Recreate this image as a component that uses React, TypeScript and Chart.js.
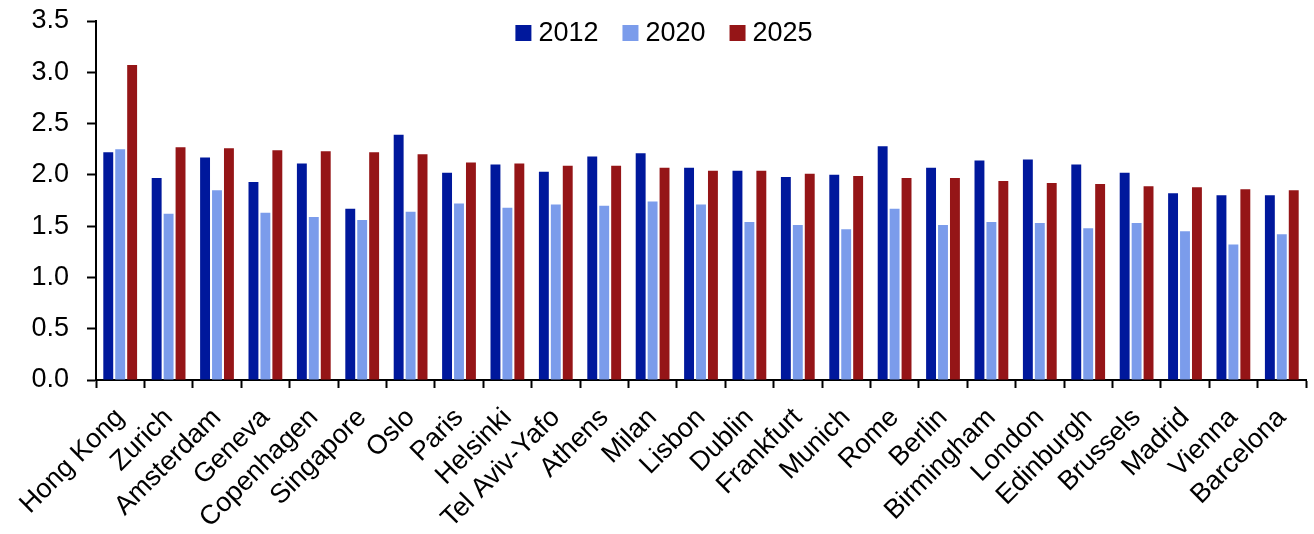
import React, { useEffect, useRef } from "react";
import { Chart, registerables } from "chart.js";

Chart.register(...registerables);

const cities = [
  "Hong Kong", "Zurich", "Amsterdam", "Geneva", "Copenhagen", "Singapore", "Oslo",
  "Paris", "Helsinki", "Tel Aviv-Yafo", "Athens", "Milan", "Lisbon", "Dublin",
  "Frankfurt", "Munich", "Rome", "Berlin", "Birmingham", "London", "Edinburgh",
  "Brussels", "Madrid", "Vienna", "Barcelona",
];

const values2012 = [
  2.22, 1.97, 2.17, 1.93, 2.11, 1.67, 2.39, 2.02, 2.10, 2.03, 2.18, 2.21, 2.07,
  2.04, 1.98, 2.00, 2.28, 2.07, 2.14, 2.15, 2.10, 2.02, 1.82, 1.80, 1.80,
];

const values2020 = [
  2.25, 1.62, 1.85, 1.63, 1.59, 1.56, 1.64, 1.72, 1.68, 1.71, 1.70, 1.74, 1.71,
  1.54, 1.51, 1.47, 1.67, 1.51, 1.54, 1.53, 1.48, 1.53, 1.45, 1.32, 1.42,
];

const values2025 = [
  3.07, 2.27, 2.26, 2.24, 2.23, 2.22, 2.20, 2.12, 2.11, 2.09, 2.09, 2.07, 2.04,
  2.04, 2.01, 1.99, 1.97, 1.97, 1.94, 1.92, 1.91, 1.89, 1.88, 1.86, 1.85,
];

const seriesLabels = ["2012", "2020", "2025"];
const seriesColors = ["#00189C", "#7B9CEB", "#951517"];

const FONT = '"Liberation Sans", Arial, sans-serif';

const legendPlugin = {
  id: "insideLegend",
  afterDraw(chart: any) {
    const ctx = chart.ctx;
    ctx.save();
    ctx.font = `27px ${FONT}`;
    ctx.textBaseline = "middle";
    const box = 16;
    const gapText = 7;
    const gapItem = 24;
    const items = chart.data.datasets.map((d: any) => ({
      label: d.label,
      color: d.backgroundColor,
      w: box + gapText + ctx.measureText(d.label).width,
    }));
    const total = items.reduce((s: number, i: any) => s + i.w, 0) + gapItem * (items.length - 1);
    let x = 664 - total / 2;
    const cy = 33;
    items.forEach((it: any) => {
      ctx.fillStyle = it.color;
      ctx.fillRect(x, cy - box / 2, box, box);
      ctx.fillStyle = "#000";
      ctx.fillText(it.label, x + box + gapText, cy + 1);
      x += it.w + gapItem;
    });
    ctx.restore();
  },
};

export default function App() {
  const canvasRef = useRef<HTMLCanvasElement | null>(null);

  useEffect(() => {
    if (!canvasRef.current) return;
    const datasets = [values2012, values2020, values2025].map((vals, i) => ({
      label: seriesLabels[i],
      data: vals,
      backgroundColor: seriesColors[i],
      borderWidth: 0,
      barPercentage: 0.83,
      categoryPercentage: 0.74,
    }));
    const chart = new Chart(canvasRef.current, {
      type: "bar",
      data: { labels: cities, datasets },
      options: {
        animation: false,
        responsive: true,
        maintainAspectRatio: false,
        layout: { padding: { top: 21, right: 8, left: 0, bottom: 0 } },
        plugins: {
          legend: { display: false },
          tooltip: { enabled: false },
        },
        scales: {
          x: {
            grid: {
              display: true,
              drawOnChartArea: false,
              drawTicks: true,
              tickLength: 8,
              tickWidth: 2,
              tickColor: "#000",
              offset: true,
            },
            border: { display: true, color: "#000", width: 2 },
            ticks: {
              autoSkip: false,
              maxRotation: 45,
              minRotation: 45,
              color: "#000",
              font: { size: 27, family: FONT },
              padding: 14,
            },
            afterFit: (scale: any) => {
              scale.height = 154;
              scale.paddingLeft = 0;
              scale.paddingRight = 0;
            },
          },
          y: {
            min: 0,
            max: 3.5,
            ticks: {
              stepSize: 0.5,
              color: "#000",
              font: { size: 27, family: FONT },
              padding: 18,
              callback: (v: any) => Number(v).toFixed(1),
            },
            grid: {
              display: true,
              drawOnChartArea: false,
              drawTicks: true,
              tickLength: 9,
              tickWidth: 2,
              tickColor: "#000",
            },
            border: { display: true, color: "#000", width: 2 },
            afterFit: (scale: any) => {
              scale.width = 96;
              scale.paddingTop = 0;
              scale.paddingBottom = 0;
            },
          },
        },
      },
      plugins: [legendPlugin],
    });
    return () => chart.destroy();
  }, []);

  return (
    <div style={{ position: "absolute", left: 0, top: 0, width: 1314, height: 534 }}>
      <canvas ref={canvasRef} />
    </div>
  );
}
